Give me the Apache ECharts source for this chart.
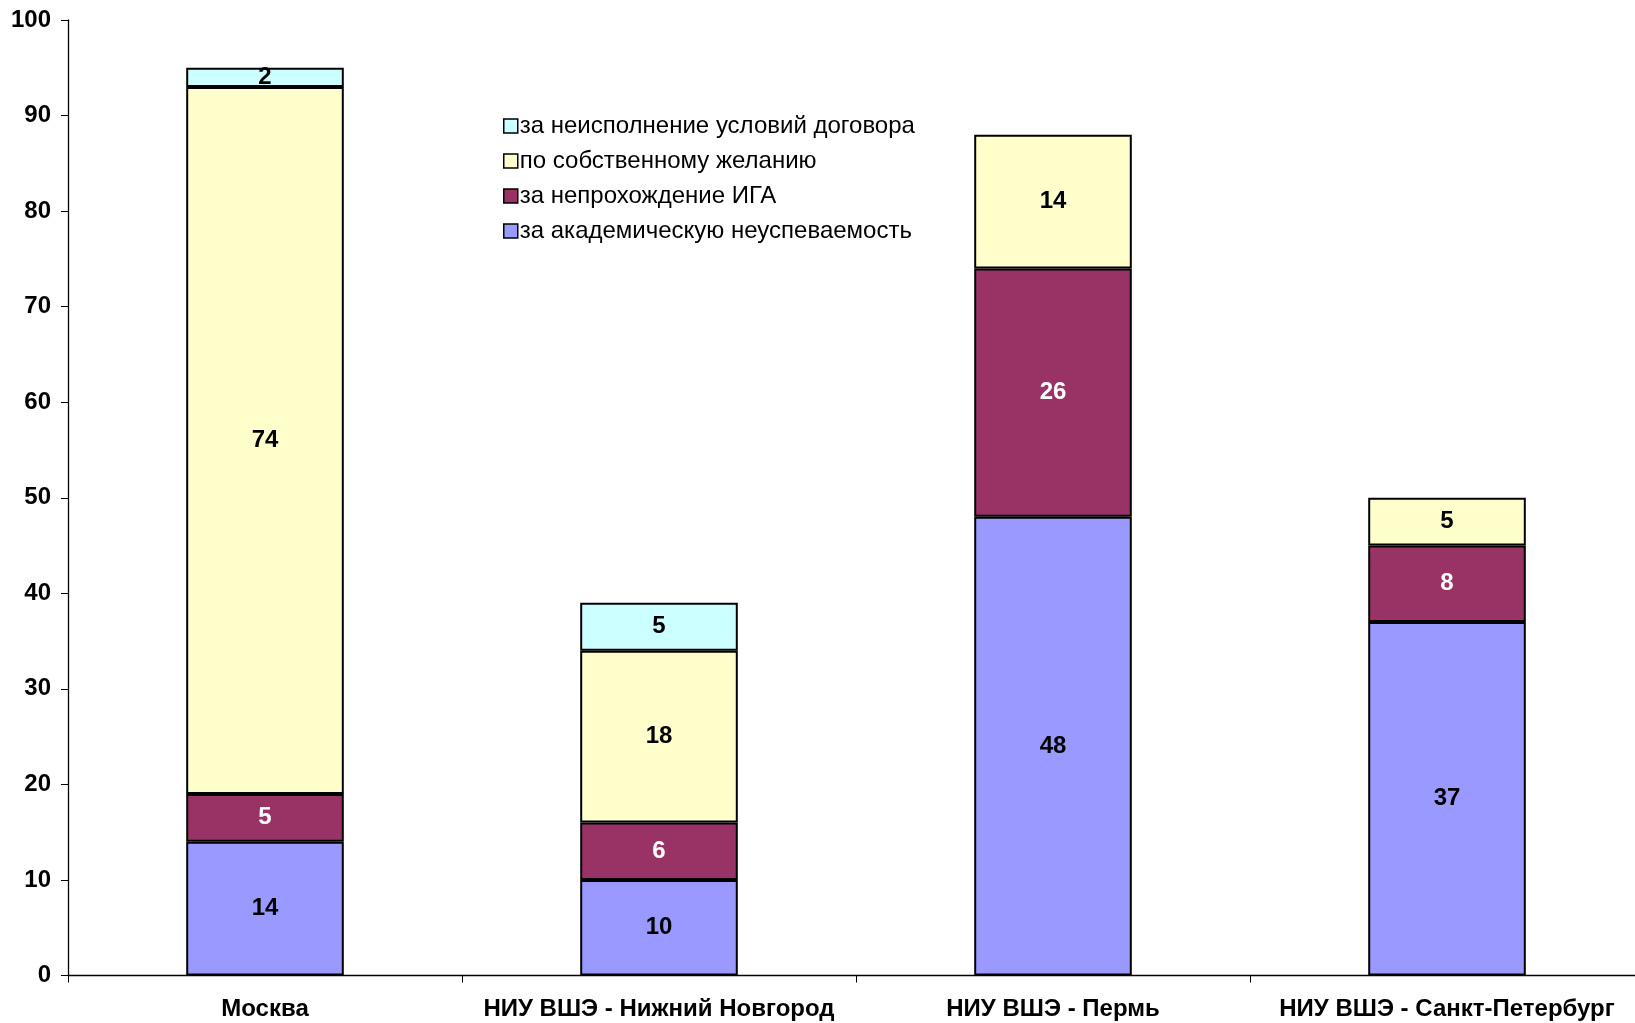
<!DOCTYPE html>
<html>
<head>
<meta charset="utf-8">
<script src="https://cdn.jsdelivr.net/npm/echarts@6/dist/echarts.min.js"></script>
<style>
html,body{margin:0;padding:0;background:#fff;overflow:hidden;}
#chart{width:1635px;height:1023px;}
</style>
</head>
<body>
<div id="chart"></div>
<script>
const categories = ['Москва', 'НИУ ВШЭ - Нижний Новгород', 'НИУ ВШЭ - Пермь', 'НИУ ВШЭ - Санкт-Петербург'];
const seriesNames = ['за академическую неуспеваемость', 'за непрохождение ИГА', 'по собственному желанию', 'за неисполнение условий договора'];
const academic = [14, 10, 48, 37];
const iga = [5, 6, 26, 8];
const ownWish = [74, 18, 14, 5];
const contract = [2, 5, null, null];
const yTicks = [0, 10, 20, 30, 40, 50, 60, 70, 80, 90, 100];

const colors = ['#9999FF', '#993366', '#FFFFCC', '#CCFFFF'];
const labelColors = ['#000', '#fff', '#000', '#000'];
const values = [academic, iga, ownWish, contract];
const FONT = 'Liberation Sans, Arial, sans-serif';

const chart = echarts.init(document.getElementById('chart'), null, {renderer: 'canvas'});

const series = seriesNames.map((name, i) => ({
  name: name,
  type: 'bar',
  stack: 'total',
  barWidth: '40%',
  data: values[i],
  itemStyle: {color: colors[i], borderColor: '#000', borderWidth: 2},
  label: {
    show: true,
    position: 'inside',
    color: labelColors[i],
    fontFamily: FONT,
    fontWeight: 'bold',
    fontSize: 24,
    formatter: p => (p.value == null ? '' : String(p.value))
  },
  emphasis: {disabled: true}
}));

chart.setOption({
  animation: false,
  backgroundColor: '#fff',
  grid: {left: 68, top: 20, bottom: 47.5, width: 1576, containLabel: false, outerBoundsMode: 'none'},
  legend: {
    orient: 'vertical',
    left: 498,
    top: 109,
    data: seriesNames.slice().reverse(),
    icon: 'rect',
    itemWidth: 14,
    itemHeight: 14,
    itemGap: 11,
    itemStyle: {borderColor: '#000', borderWidth: 1.5},
    textStyle: {fontFamily: FONT, fontSize: 24, color: '#000', lineHeight: 24, padding: [0, 0, 0, -3]}
  },
  xAxis: {
    type: 'category',
    data: categories,
    axisLine: {show: true, lineStyle: {color: '#000', width: 1.3}},
    axisTick: {show: true, length: 7, alignWithLabel: false, lineStyle: {color: '#000', width: 1}},
    axisLabel: {
      interval: 0,
      margin: 22,
      color: '#000',
      fontFamily: FONT,
      fontWeight: 'bold',
      fontSize: 24
    },
    splitLine: {show: false}
  },
  yAxis: {
    type: 'value',
    min: yTicks[0],
    max: yTicks[yTicks.length - 1],
    interval: 10,
    axisLine: {show: true, lineStyle: {color: '#000', width: 1.3}},
    axisTick: {show: true, length: 7, lineStyle: {color: '#000', width: 1}},
    axisLabel: {
      margin: 17,
      color: '#000',
      fontFamily: FONT,
      fontWeight: 'bold',
      fontSize: 24
    },
    splitLine: {show: false}
  },
  series: series
});
</script>
</body>
</html>
